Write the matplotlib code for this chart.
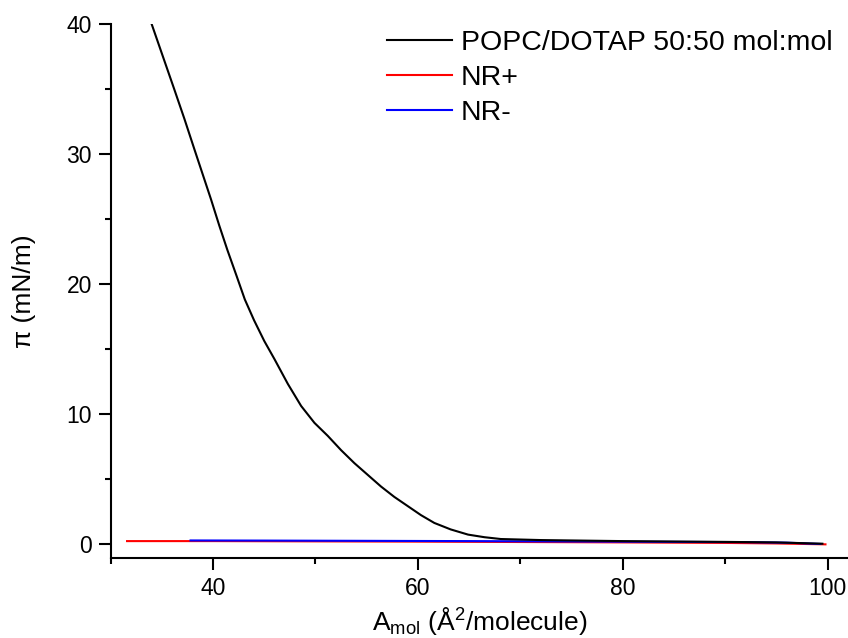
import matplotlib
matplotlib.use('Agg')
import matplotlib.pyplot as plt
from matplotlib.ticker import MultipleLocator

plt.rcParams['font.family'] = ['Liberation Sans', 'DejaVu Sans']
plt.rcParams['mathtext.fontset'] = 'custom'
plt.rcParams['mathtext.rm'] = 'Liberation Sans'
plt.rcParams['mathtext.it'] = 'Liberation Sans:italic'

# Isotherm of the lipid monolayer.
popc_x = [34.0, 35.1, 36.2, 37.2, 38.2, 39.0, 39.8, 40.6, 41.4, 42.3, 43.1, 44.0, 45.0,
          46.0, 47.3, 48.6, 49.9, 51.2, 52.5, 53.8, 55.1, 56.4, 57.7, 59.0, 60.3,
          61.6, 63.2, 64.9, 66.5, 68.1, 72.0, 76.0, 80.0, 85.0, 90.0, 95.0, 99.5]
popc_y = [40.0, 37.5, 35.0, 32.7, 30.3, 28.4, 26.5, 24.5, 22.6, 20.6, 18.8, 17.2, 15.6,
          14.2, 12.3, 10.6, 9.3, 8.3, 7.2, 6.2, 5.3, 4.4, 3.6, 2.9, 2.2,
          1.6, 1.1, 0.7, 0.5, 0.36, 0.28, 0.24, 0.2, 0.17, 0.14, 0.1, 0.0]

# Nanoparticle-containing subphases stay near zero.
nr_plus_x = [31.6, 40.0, 50.0, 60.0, 70.0, 80.0, 90.0, 95.0, 99.8]
nr_plus_y = [0.2, 0.2, 0.18, 0.16, 0.13, 0.1, 0.06, 0.02, -0.05]
nr_minus_x = [37.8, 45.0, 55.0, 65.0, 75.0, 85.0, 92.0, 96.0, 99.3]
nr_minus_y = [0.25, 0.24, 0.22, 0.2, 0.17, 0.14, 0.12, 0.08, -0.02]

labels = ['POPC/DOTAP 50:50 mol:mol', 'NR+', 'NR-']

fig = plt.figure(figsize=(8.48, 6.38), dpi=100)
ax = fig.add_axes([0.1305, 0.1254, 0.8695, 0.837])

l1, = ax.plot(popc_x, popc_y, color='black', linewidth=1.5, zorder=3)
l2, = ax.plot(nr_plus_x, nr_plus_y, color='red', linewidth=1.5, zorder=2)
l3, = ax.plot(nr_minus_x, nr_minus_y, color='blue', linewidth=1.5, zorder=2)

ax.set_xlim(30, 102)
ax.set_ylim(-1.1, 40)

# Only left and bottom axes, ticks pointing out.
ax.spines['top'].set_visible(False)
ax.spines['right'].set_visible(False)
for side in ['left', 'bottom']:
    ax.spines[side].set_linewidth(1.5)

ax.xaxis.set_major_locator(MultipleLocator(20))
ax.xaxis.set_minor_locator(MultipleLocator(10))
ax.yaxis.set_major_locator(MultipleLocator(10))
ax.yaxis.set_minor_locator(MultipleLocator(5))
ax.tick_params(which='major', direction='out', length=8.5, width=1.5, labelsize=16.5, pad=5)
ax.tick_params(which='minor', direction='out', length=4.5, width=1.5)

ax.set_xlabel(r'A$_{\mathrm{mol}}$ (Å$^{2}$/molecule)', fontsize=19, labelpad=4)
ax.set_ylabel('π (mN/m)', fontsize=19, labelpad=22)

ax.legend([l1, l2, l3], labels, loc='upper left', bbox_to_anchor=(387 / 848, 1 - 30 / 638),
          bbox_transform=fig.transFigure, frameon=False, fontsize=20.5, borderpad=0,
          borderaxespad=0, handlelength=2.3, handletextpad=0.3, labelspacing=0.32)

fig.savefig('out.png', dpi=100, facecolor='white')
